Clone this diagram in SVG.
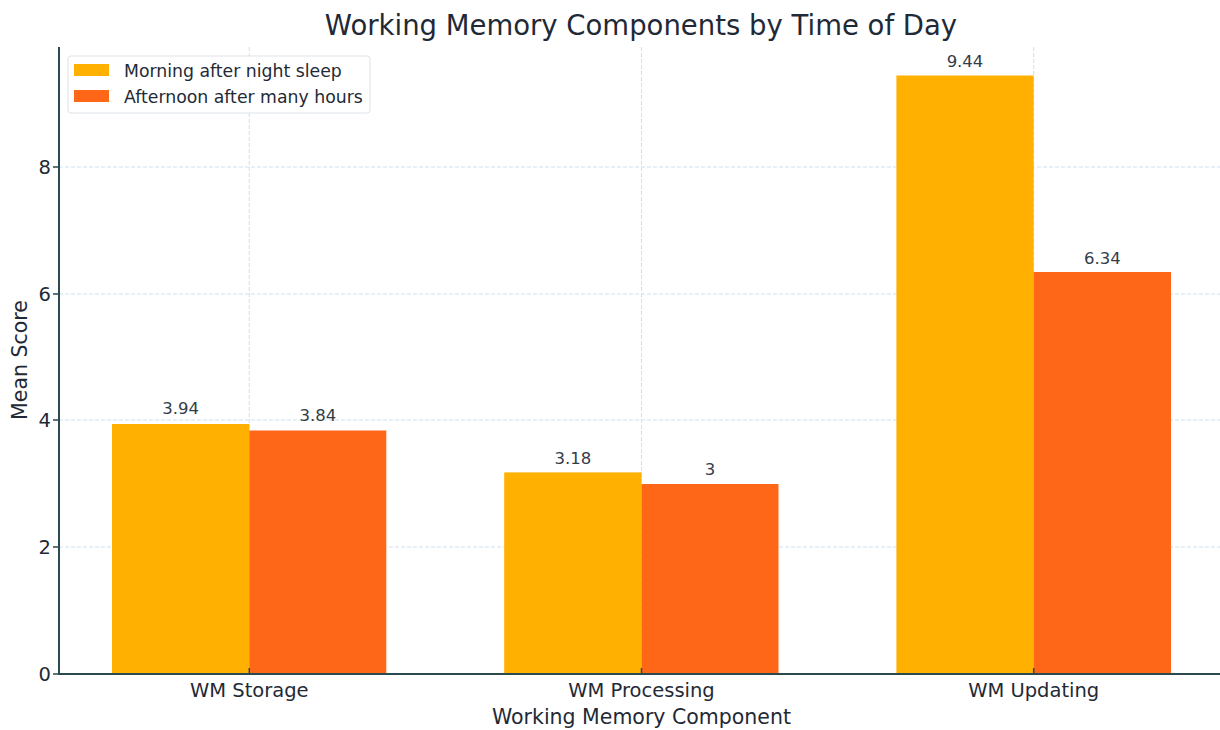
<svg xmlns="http://www.w3.org/2000/svg" width="1220" height="730" viewBox="0 0 1220 730">
<style>
text{font-family:"DejaVu Sans","Liberation Sans",sans-serif;fill:#1f2a36}
.grid{stroke:#cfe0f0;stroke-width:1;stroke-dasharray:4 2;fill:none}
.axis{stroke:#2a4a4f;stroke-width:2;fill:none}
.tick{font-size:19.5px}
.val{font-size:16.5px;fill:#333d48;text-anchor:middle}
.m{fill:#FFB000}
.a{fill:#FF6718}
.leg{font-size:17.3px}
</style>
<rect width="1220" height="730" fill="#fff"/>
<g id="grid">
<line class="grid" x1="59" y1="547" x2="1220" y2="547"/>
<line class="grid" x1="59" y1="420" x2="1220" y2="420"/>
<line class="grid" x1="59" y1="294" x2="1220" y2="294"/>
<line class="grid" x1="59" y1="167" x2="1220" y2="167"/>
<line class="grid" x1="249.3" y1="47" x2="249.3" y2="674"/>
<line class="grid" x1="641.5" y1="47" x2="641.5" y2="674"/>
<line class="grid" x1="1033.7" y1="47" x2="1033.7" y2="674"/>
</g>
<g id="bars">
<rect id="storage-morning" class="m" x="112" y="424" width="137.3" height="250"/>
<rect id="storage-afternoon" class="a" x="249.3" y="430.5" width="137" height="243.5"/>
<rect id="processing-morning" class="m" x="504.2" y="472.4" width="137.3" height="201.6"/>
<rect id="processing-afternoon" class="a" x="641.5" y="484" width="137" height="190"/>
<rect id="updating-morning" class="m" x="896.4" y="75.5" width="137.3" height="598.5"/>
<rect id="updating-afternoon" class="a" x="1033.7" y="272" width="137.3" height="402"/>
</g>
<g id="values">
<text class="val" x="180.7" y="414">3.94</text>
<text class="val" x="317.8" y="421">3.84</text>
<text class="val" x="572.8" y="464">3.18</text>
<text class="val" x="710" y="475">3</text>
<text class="val" x="965" y="67">9.44</text>
<text class="val" x="1102.3" y="264">6.34</text>
</g>
<g id="axes">
<line class="axis" x1="59" y1="47" x2="59" y2="675"/>
<line class="axis" x1="58" y1="674" x2="1220" y2="674"/>
<line stroke="#2a4a4f" stroke-width="1.5" x1="53" y1="674" x2="59" y2="674"/>
<line stroke="#2a4a4f" stroke-width="1.5" x1="53" y1="547" x2="59" y2="547"/>
<line stroke="#2a4a4f" stroke-width="1.5" x1="53" y1="420" x2="59" y2="420"/>
<line stroke="#2a4a4f" stroke-width="1.5" x1="53" y1="294" x2="59" y2="294"/>
<line stroke="#2a4a4f" stroke-width="1.5" x1="53" y1="167" x2="59" y2="167"/>
<line stroke="#2a4a4f" stroke-width="1.5" x1="249.3" y1="674" x2="249.3" y2="668"/>
<line stroke="#2a4a4f" stroke-width="1.5" x1="641.5" y1="674" x2="641.5" y2="668"/>
<line stroke="#2a4a4f" stroke-width="1.5" x1="1033.7" y1="674" x2="1033.7" y2="668"/>
</g>
<g id="yticks">
<text class="tick" x="51" y="681" text-anchor="end">0</text>
<text class="tick" x="51" y="554" text-anchor="end">2</text>
<text class="tick" x="51" y="427" text-anchor="end">4</text>
<text class="tick" x="51" y="301" text-anchor="end">6</text>
<text class="tick" x="51" y="174" text-anchor="end">8</text>
</g>
<g id="xticks">
<text class="tick" x="249.3" y="697" text-anchor="middle" font-size="21">WM Storage</text>
<text class="tick" x="641.5" y="697" text-anchor="middle" font-size="21">WM Processing</text>
<text class="tick" x="1033.7" y="697" text-anchor="middle" font-size="21">WM Updating</text>
</g>
<text id="xlabel" x="641.5" y="724" font-size="20.5" text-anchor="middle">Working Memory Component</text>
<text id="ylabel" transform="translate(27,360) rotate(-90)" font-size="20.5" text-anchor="middle">Mean Score</text>
<text id="title" x="641" y="35" font-size="27.5" text-anchor="middle">Working Memory Components by Time of Day</text>
<g id="legend">
<rect x="68" y="56" width="302" height="57" rx="3" fill="#fff" fill-opacity="0.85" stroke="#dde2e8"/>
<rect class="m" x="74" y="64" width="35" height="12"/>
<rect class="a" x="74" y="90" width="35" height="12"/>
<text class="leg" x="124" y="77">Morning after night sleep</text>
<text class="leg" x="124" y="103">Afternoon after many hours</text>
</g>
</svg>
